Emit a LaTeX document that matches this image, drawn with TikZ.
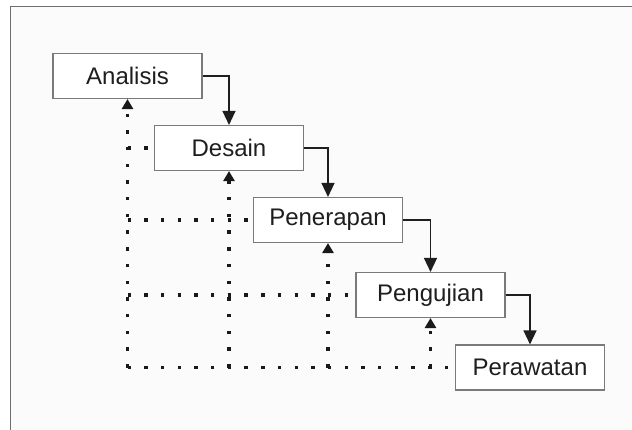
\documentclass[tikz,border=0pt]{standalone}
\usepackage{fontspec}
\setsansfont{Liberation Sans}
\usetikzlibrary{positioning, calc, arrows.meta}

\definecolor{framegray}{HTML}{6E6E6E}
\definecolor{boxgray}{HTML}{7A7A7A}
\definecolor{inkdark}{HTML}{1E1E1E}
\definecolor{paper}{HTML}{FBFBFB}

\begin{document}
\begin{tikzpicture}[
    x=1pt, y=-1pt,
    % Block styles
    stage/.style={
      rectangle, draw=boxgray, line width=1.1pt, fill=white,
      minimum width=149pt, minimum height=45pt,
      font=\sffamily\fontsize{24}{28}\selectfont, text=inkdark,
      align=center
    },
    flow/.style={
      draw=inkdark, line width=1.3pt,
      -{Triangle[length=14pt, width=13pt]}
    },
    feedback/.style={
      draw=black!90, line width=3.4pt, line cap=butt,
      dash pattern=on 3.4pt off 13.3pt
    },
    backtip/.style={
      -{Triangle[length=10pt, width=11pt, fill=black!90]}
    },
  ]

  % === Page frame ===
  \useasboundingbox (0,0) rectangle (632,430);
  \fill[paper] (10,7) rectangle (632,430);
  \draw[framegray, line width=1pt] (632,7) -- (10,7) -- (10,430);

  % === Stages ===
  \node[stage] (anal)  at (127.5, 76)  {Analisis};
  \node[stage] (des)   at (229, 148)   {Desain};
  \node[stage] (pen)   at (328, 220)   {Penerapan};
  \node[stage] (uji)   at (430.5, 295) {Pengujian};
  \node[stage] (rawat) at (530, 367.5) {Perawatan};

  % Forward flow
  \draw[flow] (anal.east) -| (des.north);
  \draw[flow] (des.east) -| (pen.north);
  \draw[flow] (pen.east) -| (uji.north);
  \draw[flow] (uji.east) -| (rawat.north);

  % === Feedback (dotted) ===
  \coordinate (corner) at (anal.south |- rawat.west);
  \draw[feedback] (corner) -- (rawat.west);
  \foreach \n in {anal, des, pen, uji}
    \draw[feedback, backtip] (\n.south |- corner) -- (\n.south);
  \foreach \n in {des, pen, uji}
    \draw[feedback] (corner |- \n.west) -- (\n.west);

\end{tikzpicture}
\end{document}
